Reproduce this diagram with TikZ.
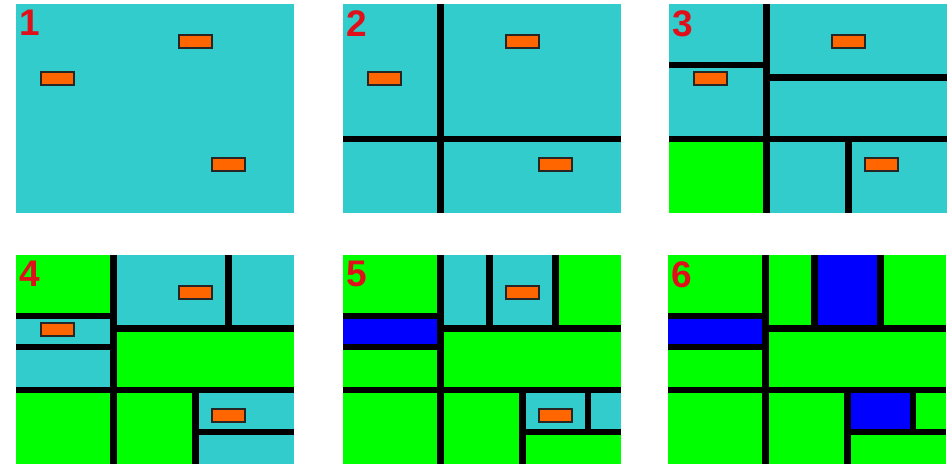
\documentclass[tikz,border=0pt]{standalone}
\usepackage{fontspec}
\newfontfamily\numfont{Liberation Sans}
\usepackage{tikz}
\definecolor{pool}{HTML}{33CCCC}
\definecolor{done}{HTML}{00FF00}
\definecolor{hit}{HTML}{0000FF}
\definecolor{item}{HTML}{FF6600}
\definecolor{tag}{HTML}{E0101A}

\begin{document}
\begin{tikzpicture}[x=1pt,y=-1pt,
  open/.style={fill=pool},
  leaf/.style={fill=done},
  probe/.style={fill=hit},
  cut/.style={line width=6.5pt,black},
  obj/.style={fill=item,draw=black!85,line width=1.2pt},
  num/.style={text=tag,font=\numfont\bfseries\fontsize{37}{37}\selectfont,inner sep=0pt,anchor=north west}
]
\useasboundingbox (0,0) rectangle (951,465);
% 1: start
\begin{scope}[shift={(16,4)}]
  \fill[open] (0,0) rectangle (278,209);
  \draw[obj] (25,68) rectangle ++(33,13);
  \draw[obj] (163,31) rectangle ++(33,13);
  \draw[obj] (196,154) rectangle ++(33,13);
  \node[num] (n1) at (3,6) {1};
\end{scope}
% 2: first split
\begin{scope}[shift={(343,4)}]
  \fill[open] (0,0) rectangle (278,209);
  \draw[cut] (97.5,0) -- (97.5,209);
  \draw[cut] (0,135) -- (278,135);
  \draw[obj] (25,68) rectangle ++(33,13);
  \draw[obj] (163,31) rectangle ++(33,13);
  \draw[obj] (196,154) rectangle ++(33,13);
  \node[num] (n2) at (3,6) {2};
\end{scope}
% 3
\begin{scope}[shift={(669,4)}]
  \fill[open] (0,0) rectangle (278,209);
  \fill[leaf] (0,135) rectangle (97.5,209);
  \draw[cut] (97.5,0) -- (97.5,209);
  \draw[cut] (0,135) -- (278,135);
  \draw[cut] (0,61) -- (97.5,61);
  \draw[cut] (97.5,73.5) -- (278,73.5);
  \draw[cut] (179.5,135) -- (179.5,209);
  \draw[obj] (25,68) rectangle ++(33,13);
  \draw[obj] (163,31) rectangle ++(33,13);
  \draw[obj] (196,154) rectangle ++(33,13);
  \node[num] (n3) at (3,6) {3};
\end{scope}
% 4
\begin{scope}[shift={(16,255)}]
  \fill[open] (0,0) rectangle (278,209);
  \fill[leaf] (0,0) rectangle (97.5,61);
  \fill[leaf] (97.5,73.5) rectangle (278,135);
  \fill[leaf] (0,135) rectangle (179.5,209);
  \draw[cut] (97.5,0) -- (97.5,209);
  \draw[cut] (0,135) -- (278,135);
  \draw[cut] (0,61) -- (97.5,61);
  \draw[cut] (0,92) -- (97.5,92);
  \draw[cut] (97.5,73.5) -- (278,73.5);
  \draw[cut] (212.5,0) -- (212.5,73.5);
  \draw[cut] (179.5,135) -- (179.5,209);
  \draw[cut] (179.5,177) -- (278,177);
  \draw[obj] (25,68) rectangle ++(33,13);
  \draw[obj] (163,31) rectangle ++(33,13);
  \draw[obj] (196,154) rectangle ++(33,13);
  \node[num] (n4) at (3,6) {4};
\end{scope}
% 5
\begin{scope}[shift={(343,255)}]
  \fill[leaf] (0,0) rectangle (278,209);
  \fill[open] (97.5,0) rectangle (212.5,73.5);
  \fill[open] (179.5,135) rectangle (278,177);
  \fill[probe] (0,61) rectangle (97.5,92);
  \draw[cut] (97.5,0) -- (97.5,209);
  \draw[cut] (0,135) -- (278,135);
  \draw[cut] (0,61) -- (97.5,61);
  \draw[cut] (0,92) -- (97.5,92);
  \draw[cut] (97.5,73.5) -- (278,73.5);
  \draw[cut] (146.5,0) -- (146.5,73.5);
  \draw[cut] (212.5,0) -- (212.5,73.5);
  \draw[cut] (179.5,135) -- (179.5,209);
  \draw[cut] (179.5,177) -- (278,177);
  \draw[cut] (245,135) -- (245,177);
  \draw[obj] (163,31) rectangle ++(33,13);
  \draw[obj] (196,154) rectangle ++(33,13);
  \node[num] (n5) at (3,6) {5};
\end{scope}
% 6: all found
\begin{scope}[shift={(668,255)}]
  \fill[leaf] (0,0) rectangle (278,209);
  \fill[probe] (0,61) rectangle (97.5,92);
  \fill[probe] (146.5,0) rectangle (212.5,73.5);
  \fill[probe] (179.5,135) rectangle (245,177);
  \draw[cut] (97.5,0) -- (97.5,209);
  \draw[cut] (0,135) -- (278,135);
  \draw[cut] (0,61) -- (97.5,61);
  \draw[cut] (0,92) -- (97.5,92);
  \draw[cut] (97.5,73.5) -- (278,73.5);
  \draw[cut] (146.5,0) -- (146.5,73.5);
  \draw[cut] (212.5,0) -- (212.5,73.5);
  \draw[cut] (179.5,135) -- (179.5,209);
  \draw[cut] (179.5,177) -- (278,177);
  \draw[cut] (245,135) -- (245,177);
  \node[num] (n6) at (3,6) {6};
\end{scope}
\end{tikzpicture}
\end{document}
